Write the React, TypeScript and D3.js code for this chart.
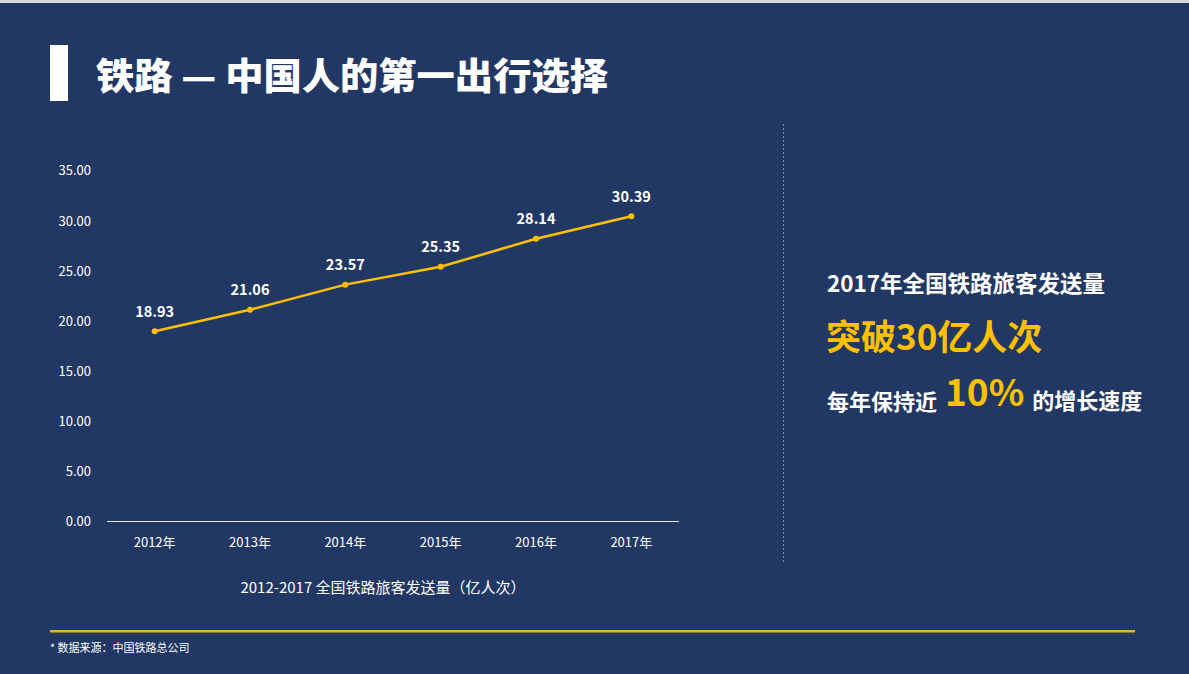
import React from "react";
import * as d3 from "d3";

const years = ["2012年", "2013年", "2014年", "2015年", "2016年", "2017年"];
const passengers = [18.93, 21.06, 23.57, 25.35, 28.14, 30.39];
const yTicks = [0, 5, 10, 15, 20, 25, 30, 35];

const W = 1189;
const H = 674;
const BG = "#213864";
const YELLOW = "#FFC000";
const CJK = "'Noto Sans CJK SC', 'Noto Sans', sans-serif";

export default function App() {
  const x = d3.scaleBand<string>().domain(years).range([107, 679]);
  const y = d3.scaleLinear().domain([0, 35]).range([521, 170]);
  const cx = (d: string) => (x(d) ?? 0) + x.bandwidth() / 2;
  const line = d3
    .line<number>()
    .x((_, i) => cx(years[i]))
    .y((v) => y(v));

  return (
    <svg
      width={W}
      height={H}
      style={{ position: "fixed", left: 0, top: 0, display: "block" }}
      fontFamily={CJK}
    >
      <rect x={0} y={0} width={W} height={H} fill={BG} />
      <rect x={0} y={0} width={W} height={3} fill="#d5d9df" />

      {/* title */}
      <rect x={50} y={45} width={18} height={56} fill="#ffffff" />
      <text
        x={96}
        y={90}
        fill="#ffffff"
        fontSize={37}
        fontWeight={900}
        textLength={512}
        lengthAdjust="spacingAndGlyphs"
      >
        铁路 — 中国人的第一出行选择
      </text>

      {/* y axis labels */}
      {yTicks.map((t) => (
        <text
          key={t}
          x={91}
          y={y(t)}
          dy="0.42em"
          textAnchor="end"
          fill="#ffffff"
          fontSize={13}
        >
          {t.toFixed(2)}
        </text>
      ))}

      {/* x axis line */}
      <line x1={107} x2={679} y1={521.5} y2={521.5} stroke="#e6e9ef" strokeWidth={1} />
      {years.map((yr) => (
        <text
          key={yr}
          x={cx(yr)}
          y={542}
          dy="0.38em"
          textAnchor="middle"
          fill="#ffffff"
          fontSize={13}
        >
          {yr}
        </text>
      ))}

      {/* line */}
      <path d={line(passengers) ?? ""} fill="none" stroke={YELLOW} strokeWidth={2.5} />
      {passengers.map((v, i) => (
        <g key={i}>
          <circle cx={cx(years[i])} cy={y(v)} r={3} fill={YELLOW} />
          <text
            x={cx(years[i])}
            y={y(v) - 20}
            dy="0.38em"
            textAnchor="middle"
            fill="#ffffff"
            fontSize={14.5}
            fontWeight={700}
          >
            {v.toFixed(2)}
          </text>
        </g>
      ))}

      {/* caption */}
      <text x={383} y={587} dy="0.38em" textAnchor="middle" fill="#ffffff" fontSize={15}>
        2012-2017 全国铁路旅客发送量（亿人次）
      </text>

      {/* divider */}
      <line
        x1={783.5}
        x2={783.5}
        y1={124}
        y2={563}
        stroke="#7d8aa3"
        strokeWidth={1}
        strokeDasharray="2 2"
      />

      {/* right text */}
      <text x={827} y={283} dy="0.38em" fill="#ffffff" fontSize={22.5} fontWeight={700}>
        2017年全国铁路旅客发送量
      </text>
      <text x={826} y={337} dy="0.38em" fill={YELLOW} fontSize={35} fontWeight={700}>
        突破30亿人次
      </text>
      <text x={827} y={402} dy="0.38em" fill="#ffffff" fontSize={22} fontWeight={700}>
        每年保持近
        <tspan fill={YELLOW} fontSize={37} dx={8} dy="-0.12em">10%</tspan>
        <tspan dx={8} dy="0.12em">的增长速度</tspan>
      </text>

      {/* bottom rule */}
      <rect x={50} y={632} width={1085} height={3} fill="#3a3a3a" opacity={0.6} />
      <rect x={50} y={630} width={1085} height={2.5} fill="#d9b531" />
      <text x={50} y={648} dy="0.38em" fill="#ffffff" fontSize={11}>
        * 数据来源：中国铁路总公司
      </text>
    </svg>
  );
}
